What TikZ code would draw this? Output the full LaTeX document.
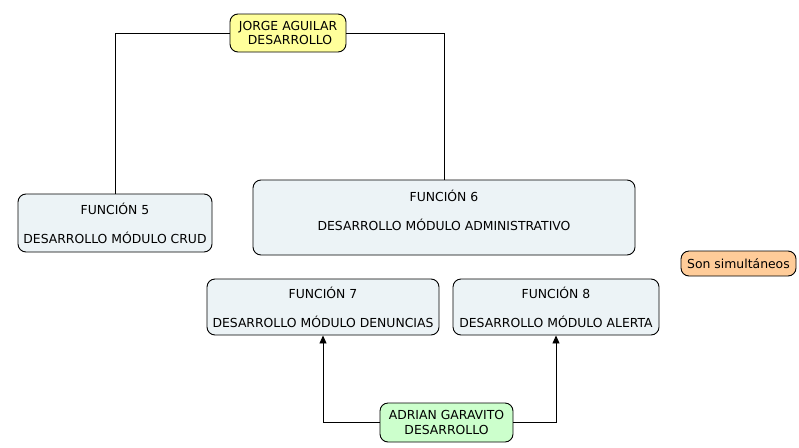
\documentclass[tikz,border=0pt]{standalone}
\usepackage{fontspec}
\setmainfont{DejaVu Sans}
\usetikzlibrary{arrows.meta,positioning}
\definecolor{fnfill}{RGB}{236,243,246}
\definecolor{yel}{RGB}{255,255,155}
\definecolor{grn}{RGB}{204,255,204}
\definecolor{org}{RGB}{255,204,153}

\begin{document}
\begin{tikzpicture}[x=1pt,y=-1pt,line width=0.9pt,every node/.style={font=\fontsize{12.4}{14.6}\selectfont},
   fn/.style={rectangle,rounded corners=8pt,draw,fill=fnfill,align=center,inner sep=0pt},
   who/.style={rectangle,rounded corners=8pt,draw,align=center,inner sep=0pt},
   txt/.style={align=center,inner sep=0pt},
   ar/.style={-{Triangle[length=8pt,width=7pt]}}]
  \useasboundingbox (0,0) rectangle (799,447);
  \node[who,fill=yel,minimum width=116pt,minimum height=38pt] (jorge) at (288,33)
    {JORGE AGUILAR\\~DESARROLLO};
  \node[fn,minimum width=194pt,minimum height=58pt] (f5) at (115,223)
    {FUNCIÓN 5\\[14.4pt]DESARROLLO MÓDULO CRUD};
  \node[fn,minimum width=382pt,minimum height=75pt] (f6) at (444,217.5) {};
  \node[txt,below=10pt of f6.north] (f6t)
    {FUNCIÓN 6\\[14.4pt]DESARROLLO MÓDULO ADMINISTRATIVO};
  \node[fn,minimum width=232pt,minimum height=56pt] (f7) at (323,307)
    {FUNCIÓN 7\\[14.4pt]DESARROLLO MÓDULO DENUNCIAS};
  \node[fn,minimum width=206pt,minimum height=56pt] (f8) at (556,307)
    {FUNCIÓN 8\\[14.4pt]DESARROLLO MÓDULO ALERTA};
  \node[who,fill=org,minimum width=115pt,minimum height=25pt] (sim) at (738.5,263.5)
    {Son simultáneos};
  \node[who,fill=grn,minimum width=133pt,minimum height=39pt] (adrian) at (446.5,422.5)
    {ADRIAN GARAVITO\\DESARROLLO};
  \draw (jorge.west) -| (f5.north);
  \draw (jorge.east) -| (f6.north);
  \draw[ar] (adrian.west) -| (f7.south);
  \draw[ar] (adrian.east) -| (f8.south);
\end{tikzpicture}
\end{document}
